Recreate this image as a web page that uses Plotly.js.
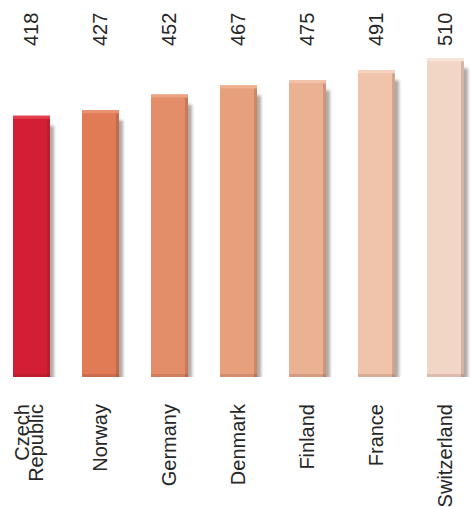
<!DOCTYPE html>
<html>
<head>
<meta charset="utf-8">
<script src="https://cdn.plot.ly/plotly-3.0.1.min.js"></script>
<style>
  html, body { margin: 0; padding: 0; background: #ffffff; }
  #chart { width: 471px; height: 507px; }
</style>
</head>
<body>
<div id="chart"></div>
<script>
// Mean scores by country
const countries = ['Czech<br>Republic', 'Norway', 'Germany', 'Denmark', 'Finland', 'France', 'Switzerland'];
const scores = [418, 427, 452, 467, 475, 491, 510];
const barColors = ['#d21f36', '#e07b56', '#e38e68', '#e8a07c', '#ebb193', '#efc4aa', '#f1d6c6'];
const topColors = ['#e2404f', '#e9916e', '#eba281', '#efb394', '#f2c2a8', '#f5d3be', '#f7e3d7'];

const BAR_W = 0.536;              // bar width in category units
const PX_PER_CAT = 69;            // pixel pitch between categories
const PX_PER_UNIT = 0.625;        // pixels per score unit
const font = { family: 'Liberation Sans, Arial, Helvetica, sans-serif', size: 20, color: '#262626' };

// soft drop shadow to the lower right of every bar
const shadow = {
  type: 'bar', x: countries, y: scores.map(v => v - 5 / PX_PER_UNIT),
  base: -5 / PX_PER_UNIT,
  width: BAR_W, offset: -BAR_W / 2 + 4 / PX_PER_CAT,
  marker: { color: 'rgba(70,50,40,0.42)', line: { width: 0 } },
  hoverinfo: 'skip'
};

const bars = {
  type: 'bar', x: countries, y: scores,
  width: BAR_W, offset: -BAR_W / 2,
  marker: { color: barColors, line: { width: 0 } }
};

// lighter bevel along the top edge
const bevel = {
  type: 'bar', x: countries, y: scores.map(() => 3 / PX_PER_UNIT),
  base: scores.map(v => v - 3 / PX_PER_UNIT),
  width: BAR_W, offset: -BAR_W / 2,
  marker: { color: topColors, line: { width: 0 } }
};

// darker edge along the right side
const edge = {
  type: 'bar', x: countries, y: scores.map(v => v - 3 / PX_PER_UNIT),
  width: 3 / PX_PER_CAT, offset: BAR_W / 2 - 3 / PX_PER_CAT,
  marker: { color: 'rgba(80,30,20,0.18)', line: { width: 0 } }
};

// darker band along the bottom edge
const foot = {
  type: 'bar', x: countries, y: scores.map(() => 3 / PX_PER_UNIT),
  width: BAR_W, offset: -BAR_W / 2,
  marker: { color: 'rgba(80,30,20,0.14)', line: { width: 0 } }
};

const annotations = scores.map((v, i) => ({
  x: countries[i], xref: 'x',
  y: (377 - 48) / 377, yref: 'paper',
  text: String(v), textangle: -90,
  xanchor: 'center', yanchor: 'bottom',
  showarrow: false, font: font
}));

const layout = {
  width: 471, height: 507,
  margin: { l: 0, r: 0, t: 0, b: 130 },
  paper_bgcolor: '#ffffff', plot_bgcolor: '#ffffff',
  barmode: 'overlay', showlegend: false,
  xaxis: {
    type: 'category',
    range: [-31.5 / PX_PER_CAT, (471 - 31.5) / PX_PER_CAT],
    showgrid: false, zeroline: false, showline: false,
    ticks: '', tickangle: -90, tickfont: font, ticklabelstandoff: 22
  },
  yaxis: { range: [0, 377 / PX_PER_UNIT], visible: false },
  annotations: annotations
};

Plotly.newPlot('chart', [shadow, bars, edge, foot, bevel], layout, { staticPlot: true }).then(() => {
  const first = document.querySelector('#chart .barlayer .trace');
  if (first) first.style.filter = 'blur(1.5px)';
  // tighter leading for two-line category labels
  document.querySelectorAll('#chart .xtick text').forEach(t => {
    const lines = t.querySelectorAll('tspan.line');
    if (lines.length === 2) {
      const d0 = parseFloat(lines[0].getAttribute('dy') || '0');
      lines[0].setAttribute('dy', (d0 + 0.2) + 'em');
      lines[1].setAttribute('dy', '0.9em');
    }
  });
});
</script>
</body>
</html>
